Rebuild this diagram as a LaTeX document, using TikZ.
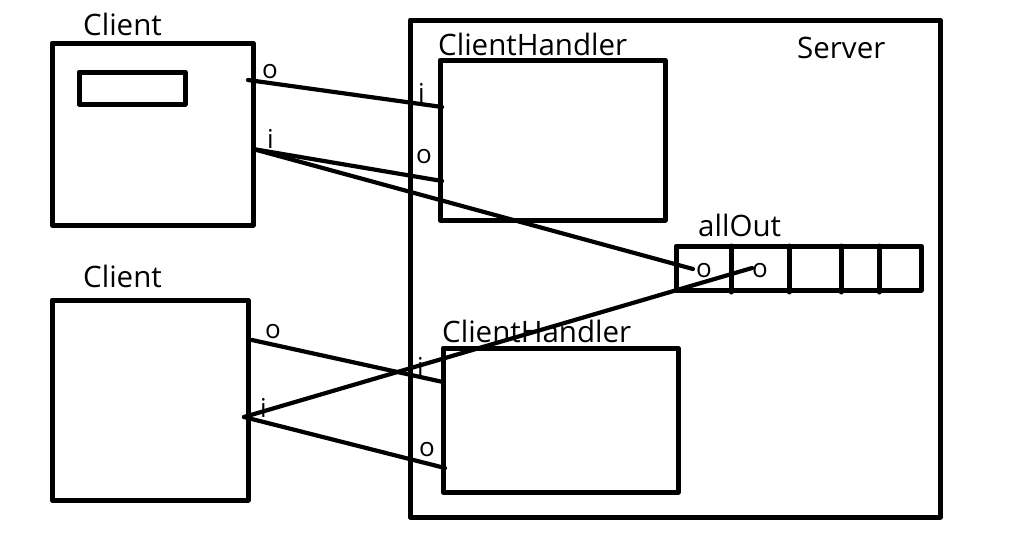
\documentclass[tikz,border=0pt]{standalone}
\usepackage{fontspec}
\setmainfont{Open Sans}
\usetikzlibrary{positioning}

\begin{document}
\begin{tikzpicture}[x=1pt,y=-1pt,line cap=round,line join=round]
\useasboundingbox (0,0) rectangle (1012,539);
\tikzset{box/.style={draw,line width=5pt,inner sep=0pt,outer sep=0pt,anchor=north west},
  lbl/.style={anchor=base west,inner sep=0pt,font=\fontsize{29.5}{33}\selectfont},
  pin/.style={anchor=base west,inner sep=0pt,font=\fontsize{26}{30}\selectfont},
  wire/.style={line width=4.2pt}}
% clients
\node[box,minimum width=201pt,minimum height=182pt] (client1) at (52,43) {};
\node[box,minimum width=106pt,minimum height=32pt] (field) at (79,72) {};
\node[lbl] (client1lbl) at (83,35) {Client};
\node[box,minimum width=196pt,minimum height=200pt] (client2) at (52,300) {};
\node[lbl] (client2lbl) at (83,287) {Client};
% server
\node[box,minimum width=530pt,minimum height=497pt] (server) at (410,20) {};
\node[lbl] (serverlbl) at (797,58) {Server};
\node[box,minimum width=225pt,minimum height=160pt] (handler1) at (440,60) {};
\node[lbl] (handler1lbl) at (438,55) {ClientHandler};
\node[box,minimum width=235pt,minimum height=144pt] (handler2) at (443,348) {};
\node[lbl] (handler2lbl) at (442,342) {ClientHandler};
% allOut
\node[box,minimum width=245pt,minimum height=44pt] (allout) at (676,246) {};
\node[lbl] (alloutlbl) at (698,236) {allOut};
\foreach \x in {731,789,841,879}
  \draw[line width=5pt] (\x,246) -- (\x,292);
% ends of the wires
\coordinate (c1o) at (248,80);
\coordinate (c1i) at (253,149);
\coordinate (h1i) at (442,107);
\coordinate (h1o) at (442,181);
\coordinate (c2o) at (252,340);
\coordinate (c2i) at (244,417);
\coordinate (h2i) at (443,382);
\coordinate (h2o) at (445,468);
\coordinate (q1) at (693,269);
\coordinate (q2) at (752,268);
\draw[wire] (c1o) -- (h1i);
\draw[wire] (c1i) -- (h1o);
\draw[wire] (c1i) -- (q1);
\draw[wire] (c2o) -- (h2i);
\draw[wire] (c2i) -- (h2o);
\draw[wire] (c2i) -- (q2);
% stream labels
\node[pin] (c1olbl) at (262,78) {o};
\node[pin] (c1ilbl) at (267,148) {i};
\node[pin] (h1ilbl) at (418,102) {i};
\node[pin] (h1olbl) at (416,163) {o};
\node[pin] (c2olbl) at (265,338) {o};
\node[pin] (c2ilbl) at (260,417) {i};
\node[pin] (h2ilbl) at (417,376) {i};
\node[pin] (h2olbl) at (419,456) {o};
\node[pin] (q1lbl) at (696,277) {o};
\node[pin] (q2lbl) at (752,277) {o};
\end{tikzpicture}
\end{document}
